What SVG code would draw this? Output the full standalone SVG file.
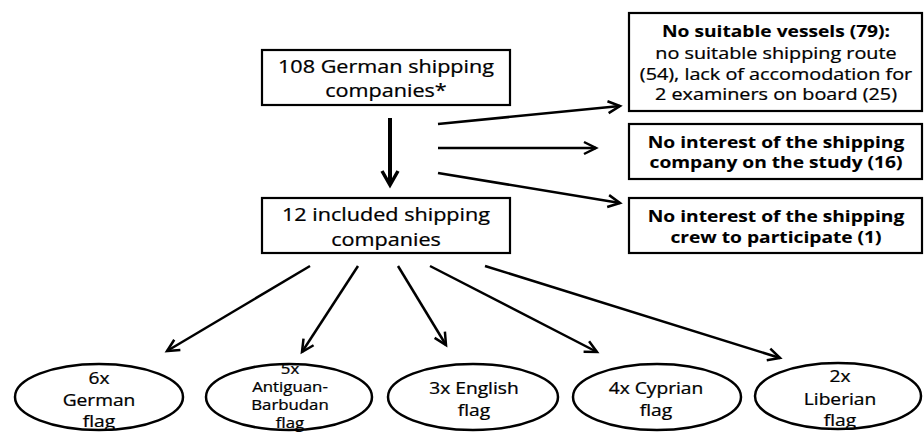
<svg xmlns="http://www.w3.org/2000/svg" width="924" height="432" viewBox="0 0 924 432">
<style>
.box{fill:#fff;stroke:#000;stroke-width:2.2}
.ell{fill:#fff;stroke:#000;stroke-width:2.5}
.t{font-family:"Open Sans","DejaVu Sans",sans-serif;fill:#000;text-anchor:middle;stroke:#000;stroke-width:0.25}
.b{font-weight:bold;stroke-width:0.1}
.conn line{stroke:#000;stroke-width:2.5;fill:none}
</style>
<defs>
<marker id="ah" markerUnits="userSpaceOnUse" markerWidth="16" markerHeight="16" viewBox="-1 -8 16 16" refX="12" refY="0" orient="auto">
<path d="M0,-6 L12,0 L0,6" fill="none" stroke="#000" stroke-width="2.5" stroke-linejoin="miter"/>
</marker>
<marker id="ahb" markerUnits="userSpaceOnUse" markerWidth="20" markerHeight="20" viewBox="-2 -10 20 20" refX="14" refY="0" orient="auto">
<path d="M0,-8 L14,0 L0,8" fill="none" stroke="#000" stroke-width="3.5"/>
</marker>
</defs>
<g id="connectors" class="conn">
<line x1="390" y1="118" x2="390" y2="185" style="stroke-width:4" marker-end="url(#ahb)"/>
<line x1="438" y1="124" x2="620" y2="106" marker-end="url(#ah)"/>
<line x1="438" y1="148" x2="596" y2="148" marker-end="url(#ah)"/>
<line x1="438" y1="173" x2="620" y2="203" marker-end="url(#ah)"/>
<line x1="310" y1="266" x2="167" y2="351" marker-end="url(#ah)"/>
<line x1="358" y1="266" x2="302" y2="352" marker-end="url(#ah)"/>
<line x1="398" y1="266" x2="446" y2="345" marker-end="url(#ah)"/>
<line x1="430" y1="266" x2="597" y2="352" marker-end="url(#ah)"/>
<line x1="485" y1="266" x2="780" y2="358" marker-end="url(#ah)"/>
</g>
<g id="n108">
<rect class="box" x="262" y="50" width="248" height="55"/>
<g transform="translate(386 0) scale(1.2 1)">
<text class="t" font-size="18" x="0" y="73">108 German shipping</text>
<text class="t" font-size="18" x="0" y="97">companies*</text>
</g>
</g>
<g id="n12">
<rect class="box" x="262" y="198" width="248" height="55"/>
<g transform="translate(386 0) scale(1.2 1)">
<text class="t" font-size="18" x="0" y="221">12 included shipping</text>
<text class="t" font-size="18" x="0" y="246">companies</text>
</g>
</g>
<g id="nVessels">
<rect class="box" x="629" y="13" width="293" height="98"/>
<g transform="translate(776 0) scale(1.2 1)">
<text class="t b" font-size="16" x="0" y="37">No suitable vessels (79):</text>
<text class="t" font-size="16.5" x="0" y="59">no suitable shipping route</text>
<text class="t" font-size="16.5" x="0" y="80">(54), lack of accomodation for</text>
<text class="t" font-size="16.5" x="0" y="100">2 examiners on board (25)</text>
</g>
</g>
<g id="nCompany">
<rect class="box" x="629" y="124" width="293" height="55"/>
<g transform="translate(776 0) scale(1.2 1)">
<text class="t b" font-size="16" x="0" y="148">No interest of the shipping</text>
<text class="t b" font-size="16" x="0" y="168">company on the study (16)</text>
</g>
</g>
<g id="nCrew">
<rect class="box" x="629" y="198" width="293" height="55"/>
<g transform="translate(776 0) scale(1.2 1)">
<text class="t b" font-size="16" x="0" y="222">No interest of the shipping</text>
<text class="t b" font-size="16" x="0" y="243">crew to participate (1)</text>
</g>
</g>
<g id="eGerman">
<ellipse class="ell" cx="99" cy="397" rx="84" ry="33"/>
<g transform="translate(99 0) scale(1.2 1)">
<text class="t" font-size="16" x="0" y="384">6x</text>
<text class="t" font-size="16" x="0" y="406">German</text>
<text class="t" font-size="16" x="0" y="427">flag</text>
</g>
</g>
<g id="eAntiguan">
<ellipse class="ell" cx="289" cy="397" rx="83" ry="33"/>
<g transform="translate(290 0) scale(1.2 1)">
<text class="t" font-size="14" x="0" y="374">5x</text>
<text class="t" font-size="14" x="0" y="392">Antiguan-</text>
<text class="t" font-size="14" x="0" y="410">Barbudan</text>
<text class="t" font-size="14" x="0" y="428">flag</text>
</g>
</g>
<g id="eEnglish">
<ellipse class="ell" cx="473" cy="397" rx="85" ry="33"/>
<g transform="translate(474 0) scale(1.2 1)">
<text class="t" font-size="16" x="0" y="394">3x English</text>
<text class="t" font-size="16" x="0" y="416">flag</text>
</g>
</g>
<g id="eCyprian">
<ellipse class="ell" cx="657" cy="397" rx="84" ry="33"/>
<g transform="translate(656 0) scale(1.2 1)">
<text class="t" font-size="16" x="0" y="394">4x Cyprian</text>
<text class="t" font-size="16" x="0" y="416">flag</text>
</g>
</g>
<g id="eLiberian">
<ellipse class="ell" cx="838" cy="396" rx="83" ry="33"/>
<g transform="translate(840 0) scale(1.2 1)">
<text class="t" font-size="16" x="0" y="382">2x</text>
<text class="t" font-size="16" x="0" y="405">Liberian</text>
<text class="t" font-size="16" x="0" y="426">flag</text>
</g>
</g>
</svg>
